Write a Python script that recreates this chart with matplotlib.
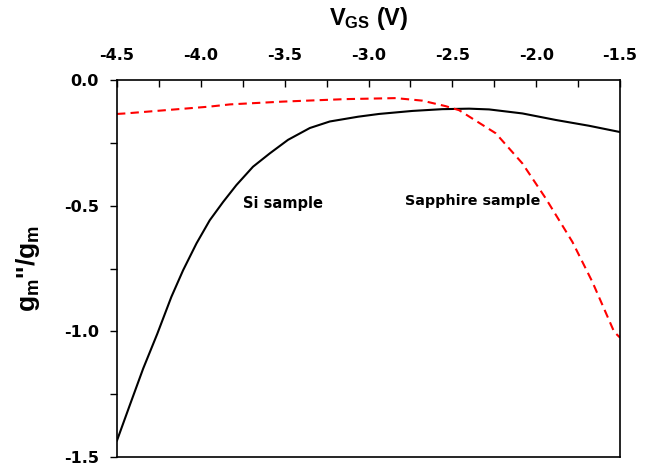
import matplotlib
matplotlib.use('Agg')
import matplotlib.pyplot as plt

plt.rcParams['font.family'] = ['Liberation Sans', 'DejaVu Sans']
plt.rcParams['font.weight'] = 'bold'
plt.rcParams['mathtext.fontset'] = 'custom'
plt.rcParams['mathtext.rm'] = 'Liberation Sans:bold'
plt.rcParams['mathtext.it'] = 'Liberation Sans:bold'
plt.rcParams['mathtext.bf'] = 'Liberation Sans:bold'

# Si sample (linha preta)
vgs_si = [-4.5, -4.424, -4.344, -4.26, -4.176, -4.106, -4.026, -3.947, -3.867,
          -3.788, -3.689, -3.589, -3.48, -3.35, -3.231, -3.062, -2.937, -2.738,
          -2.56, -2.40, -2.281, -2.082, -1.883, -1.685, -1.5]
g_si = [-1.434, -1.294, -1.148, -1.01, -0.863, -0.757, -0.650, -0.558, -0.485,
        -0.418, -0.345, -0.292, -0.238, -0.191, -0.165, -0.146, -0.135, -0.123,
        -0.116, -0.114, -0.117, -0.133, -0.159, -0.182, -0.207]

# Sapphire sample (linha vermelha tracejada)
vgs_sa = [-4.5, -4.45, -3.951, -3.826, -3.514, -3.136, -2.838, -2.68, -2.54,
          -2.46, -2.241, -2.082, -1.943, -1.784, -1.665, -1.535, -1.5]
g_sa = [-0.135, -0.133, -0.106, -0.097, -0.086, -0.076, -0.072, -0.082, -0.104,
        -0.12, -0.212, -0.332, -0.471, -0.644, -0.803, -1.002, -1.025]

xticks = [-4.5, -4.0, -3.5, -3.0, -2.5, -2.0, -1.5]
yticks = [-1.5, -1.0, -0.5, 0.0]

fig = plt.figure(figsize=(6.48, 4.66), dpi=100)
ax = fig.add_axes([0.1806, 0.0193, 0.7762, 0.809])

ax.plot(vgs_si, g_si, color='black', lw=1.5)
ax.plot(vgs_sa, g_sa, color='#ff0000', lw=1.5, dashes=(4, 2.5))

ax.text(-3.75, -0.49, 'Si sample', fontsize=10.5, fontweight='bold', va='center',
        family='DejaVu Sans')
ax.text(-2.784, -0.482, 'Sapphire sample', fontsize=10.3, fontweight='bold',
        va='center', family='DejaVu Sans')

ax.set_xlim(-4.5, -1.5)
ax.set_ylim(-1.5, 0.0)
ax.set_xticks(xticks)
ax.set_xticks([-4.25, -3.75, -3.25, -2.75, -2.25, -1.75], minor=True)
ax.set_yticks(yticks)
ax.set_yticks([-1.25, -0.75, -0.25], minor=True)
ax.xaxis.tick_top()
ax.xaxis.set_label_position('top')
ax.tick_params(axis='x', which='both', direction='in', length=5, width=1, pad=12)
ax.tick_params(axis='y', which='both', direction='out', length=5, width=1, pad=8)
ax.set_xticklabels(['%.1f' % v for v in xticks], family='DejaVu Sans',
                   fontsize=11.5, fontweight='bold')
ax.set_yticklabels(['%.1f' % v for v in yticks], family='DejaVu Sans',
                   fontsize=11.5, fontweight='bold')

ax.set_xlabel(r'V$_\mathrm{GS}$ (V)', fontsize=17, fontweight='bold', labelpad=17)
ax.set_ylabel(r"g$_\mathrm{m}$''/g$_\mathrm{m}$", fontsize=19, fontweight='bold',
              labelpad=16)

for s in ax.spines.values():
    s.set_linewidth(1.2)

fig.savefig('out.png', dpi=100)
